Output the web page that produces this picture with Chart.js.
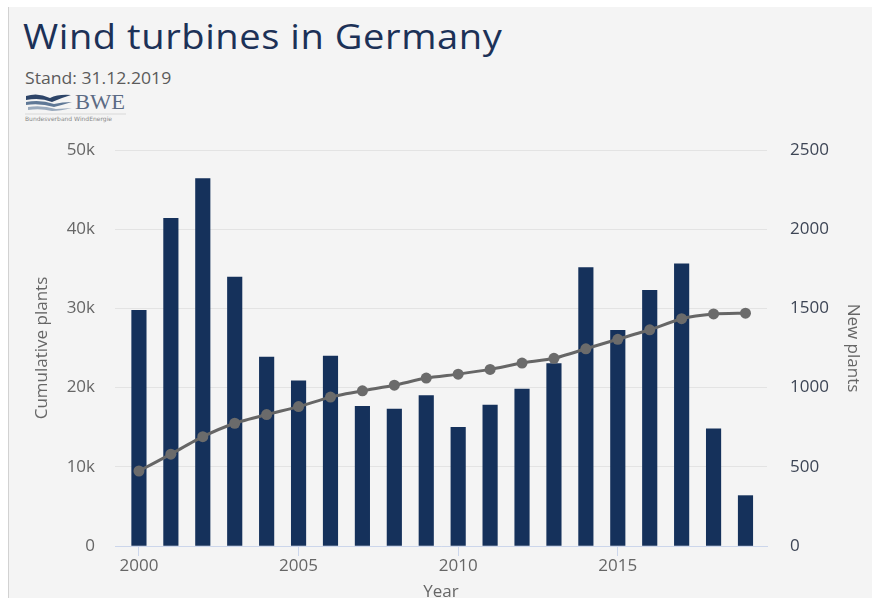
<!DOCTYPE html>
<html>
<head>
<meta charset="utf-8">
<script src="https://cdn.jsdelivr.net/npm/chart.js@4/dist/chart.umd.min.js"></script>
<style>
  html, body { margin: 0; padding: 0; background: #ffffff; overflow: hidden; }
  #wrap { position: relative; width: 873px; height: 598px; overflow: hidden; }
  #panel { position: absolute; left: 8px; top: 7px; width: 863px; height: 600px; background: #f4f4f4; border-left: 1px solid #d2d2d2; }
  #title { position: absolute; left: 23px; top: 13px; font-family: "Open Sans", sans-serif; font-size: 34px; color: #1c3157; white-space: nowrap; letter-spacing: 0.5px; transform: scaleX(1.12); transform-origin: 0 0; }
  #sub { position: absolute; left: 25px; top: 67px; font-family: "Open Sans", sans-serif; font-size: 16px; color: #5b5b5b; white-space: nowrap; transform: scaleX(1.1); transform-origin: 0 0; }
  #logo { position: absolute; left: 24px; top: 91px; }
  #c { position: absolute; left: 0; top: 0; }
</style>
</head>
<body>
<div id="wrap">
  <div id="panel"></div>
  <div id="title">Wind turbines in Germany</div>
  <div id="sub">Stand: 31.12.2019</div>
  <svg id="logo" width="112" height="34" viewBox="0 0 112 34">
    <path d="M2 5 Q14 1 26 7 Q34 3 47 4 Q37 7 28 11 Q16 6 2 9 Z" fill="#2d4468"/>
    <path d="M2 11 Q16 8 30 13 Q38 11 48 11 Q38 14 30 16 Q16 12 2 14 Z" fill="#5f7896"/>
    <path d="M4 16 Q18 14 32 18 L48 17 Q36 20 28 20 Q16 17 4 19 Z" fill="#9aaabd"/>
    <text x="51" y="18" font-family="Liberation Serif, serif" font-size="21" fill="#5c6b84" textLength="50" lengthAdjust="spacingAndGlyphs">BWE</text>
    <line x1="1" y1="23" x2="102" y2="23" stroke="#c8c8c8" stroke-width="0.6"/>
    <text x="1" y="30" font-family="DejaVu Sans, sans-serif" font-size="6" fill="#8a8a8a" textLength="87" lengthAdjust="spacingAndGlyphs">Bundesverband WindEnergie</text>
  </svg>
  <canvas id="c" width="873" height="610"></canvas>
</div>
<script>
const years = [2000,2001,2002,2003,2004,2005,2006,2007,2008,2009,2010,2011,2012,2013,2014,2015,2016,2017,2018,2019];
const newPlants = [1488,2069,2319,1698,1193,1042,1199,882,865,949,749,890,991,1151,1757,1362,1614,1782,739,318];
const cumulativePlants = [9470,11600,13800,15500,16600,17600,18800,19600,20300,21200,21700,22300,23100,23700,24900,26100,27300,28700,29300,29400];
const xTicks = [2000,2005,2010,2015];
const leftTicks = [0,10000,20000,30000,40000,50000];
const rightTicks = [0,500,1000,1500,2000,2500];

const FONT = "'Open Sans', sans-serif";

new Chart(document.getElementById('c'), {
  type: 'bar',
  data: {
    datasets: [
      {
        type: 'line',
        label: 'Cumulative plants',
        data: years.map((y, i) => ({x: y, y: cumulativePlants[i]})),
        yAxisID: 'y',
        xAxisID: 'x',
        borderColor: '#666666',
        borderWidth: 3,
        pointRadius: 5.5,
        pointBackgroundColor: '#6b6b6b',
        pointBorderColor: '#6b6b6b',
        pointBorderWidth: 0,
        tension: 0.2,
        order: 0
      },
      {
        type: 'bar',
        label: 'New plants',
        data: years.map((y, i) => ({x: y, y: newPlants[i]})),
        yAxisID: 'y1',
        xAxisID: 'x',
        backgroundColor: '#15315b',
        barThickness: 14.5,
        order: 1
      }
    ]
  },
  options: {
    responsive: false,
    animation: false,
    devicePixelRatio: 1,
    layout: { padding: { left: 0, right: 0, top: 150, bottom: 0 } },
    plugins: { legend: { display: false }, tooltip: { enabled: false } },
    scales: {
      x: {
        type: 'linear',
        min: 1999.25,
        max: 2019.674,
        offset: false,
        afterFit: s => { s.height = 64; },
        afterBuildTicks: s => { s.ticks = xTicks.map(v => ({value: v})); },
        ticks: {
          color: '#666666',
          font: { family: FONT, size: 17 },
          padding: 0,
          callback: v => String(v)
        },
        grid: { offset: false, drawOnChartArea: false, drawTicks: true, tickLength: 10, color: '#ccd6eb' },
        border: { display: true, color: '#ccd6eb', width: 1 },
        title: { display: true, text: 'Year', color: '#666666', font: { family: FONT, size: 17 }, padding: { top: 0, bottom: 7.5 } }
      },
      y: {
        type: 'linear',
        position: 'left',
        min: 0,
        max: 50000,
        afterFit: s => { s.width = 115; },
        afterBuildTicks: s => { s.ticks = leftTicks.map(v => ({value: v})); },
        ticks: {
          color: '#666666',
          font: { family: FONT, size: 17 },
          padding: 20,
          callback: v => v === 0 ? '0' : (v / 1000) + 'k'
        },
        grid: { color: '#e3e3e3', drawTicks: false, lineWidth: 1 },
        border: { display: false },
        title: { display: true, text: 'Cumulative plants', color: '#666666', font: { family: FONT, size: 17 }, padding: { top: 31.5, bottom: 0 } }
      },
      y1: {
        type: 'linear',
        position: 'right',
        min: 0,
        max: 2500,
        afterFit: s => { s.width = 106; },
        afterBuildTicks: s => { s.ticks = rightTicks.map(v => ({value: v})); },
        ticks: {
          color: '#3d4555',
          font: { family: FONT, size: 17 },
          padding: 23,
          callback: v => String(v)
        },
        grid: { drawOnChartArea: false, drawTicks: false },
        border: { display: false },
        title: { display: true, text: 'New plants', color: '#666666', font: { family: FONT, size: 17 }, padding: { top: 9.5, bottom: 0 } }
      }
    }
  }
});
</script>
</body>
</html>
